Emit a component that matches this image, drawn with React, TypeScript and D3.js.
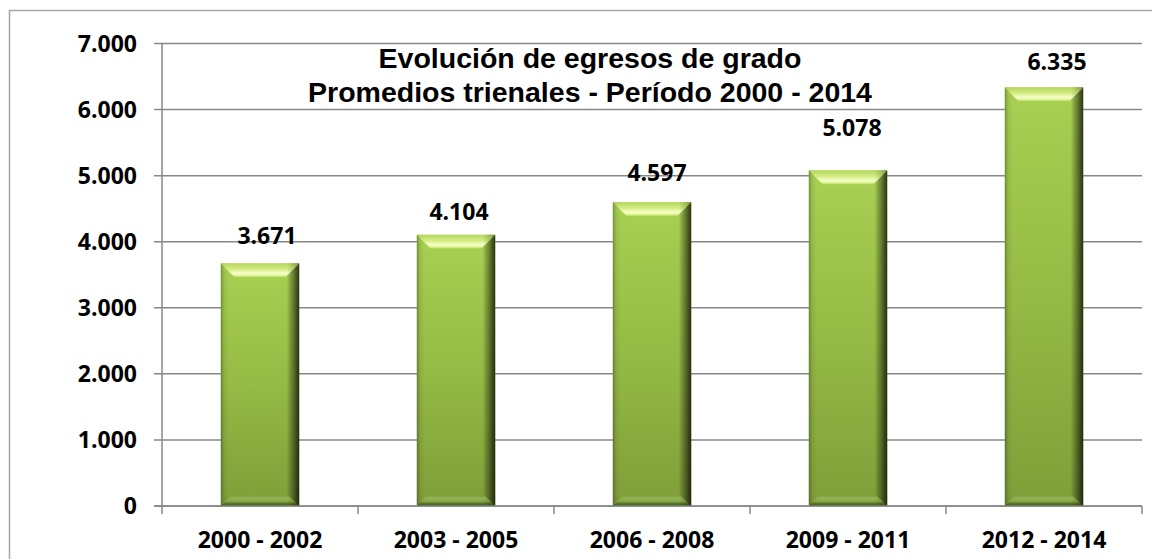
import React from 'react';
import * as d3 from 'd3';

const categories = ['2000 - 2002', '2003 - 2005', '2006 - 2008', '2009 - 2011', '2012 - 2014'];
const values = [3671, 4104, 4597, 5078, 6335];
const yTicks = [0, 1000, 2000, 3000, 4000, 5000, 6000, 7000];
const titleLines = ['Evolución de egresos de grado', 'Promedios trienales - Período 2000 - 2014'];
// manual nudges of the data labels (as placed in the original)
const labelNudgeX = [7, 3, 5, 4, 13];
const labelNudgeY = [19, 15, 21, 34, 17];

const W = 1152;
const H = 559;
const M = { left: 162, right: 1142, top: 43.5, bottom: 506 };

const locale = d3.formatLocale({ decimal: ',', thousands: '.', grouping: [3], currency: ['', ''] });
const fmt = locale.format(',d');

const LABEL_FONT = "'Open Sans', 'Noto Sans', sans-serif";
const TITLE_FONT = "'Liberation Sans', Arial, sans-serif";
const AXIS = '#878787';

export default function App() {
  const x = d3.scaleBand<string>().domain(categories).range([M.left, M.right]).paddingInner(0.6).paddingOuter(0.3);
  const y = d3.scaleLinear().domain([0, 7000]).range([M.bottom, M.top]);
  const step = x.step();
  const bw = x.bandwidth();
  const bevT = 14;
  const bevB = 11;

  return (
    <svg width={W} height={H} style={{ position: 'absolute', left: 0, top: 0, background: '#fff' }}>
      <defs>
        <linearGradient id="mainV" x1="0" y1="0" x2="0" y2="1">
          <stop offset="0" stopColor="#a8d052" />
          <stop offset="0.5" stopColor="#95ba45" />
          <stop offset="1" stopColor="#7f9e39" />
        </linearGradient>
        <linearGradient id="sideH" x1="0" y1="0" x2="1" y2="0">
          <stop offset="0" stopColor="#000" stopOpacity="0.22" />
          <stop offset="0.04" stopColor="#000" stopOpacity="0.05" />
          <stop offset="0.1" stopColor="#000" stopOpacity="0" />
          <stop offset="0.84" stopColor="#000" stopOpacity="0" />
          <stop offset="0.93" stopColor="#000" stopOpacity="0.3" />
          <stop offset="1" stopColor="#000" stopOpacity="0.62" />
        </linearGradient>
        <linearGradient id="topBev" x1="0" y1="0" x2="0" y2="1">
          <stop offset="0" stopColor="#b4d85c" />
          <stop offset="0.45" stopColor="#d8ee88" />
          <stop offset="0.7" stopColor="#f6ffc8" />
          <stop offset="0.85" stopColor="#e4f7a0" />
          <stop offset="1" stopColor="#aed456" />
        </linearGradient>
        <linearGradient id="botBev" x1="0" y1="0" x2="0" y2="1">
          <stop offset="0" stopColor="#7e9c3a" />
          <stop offset="0.3" stopColor="#93b352" />
          <stop offset="0.6" stopColor="#86a646" />
          <stop offset="0.75" stopColor="#5b7a2a" />
          <stop offset="1" stopColor="#3e5818" />
        </linearGradient>
      </defs>

      {/* chart area border */}
      <rect x={9.5} y={10.5} width={1160} height={570} fill="none" stroke="#a6a6a6" strokeWidth={1.5} />

      {/* gridlines and y ticks */}
      {yTicks.map((t) => (
        <g key={t}>
          <line x1={M.left - 8} x2={M.right} y1={y(t)} y2={y(t)} stroke={AXIS} strokeWidth={1.5} />
          <text
            x={137}
            y={y(t)}
            dy="0.36em"
            textAnchor="end"
            fontFamily={LABEL_FONT}
            fontWeight="bold"
            fontSize={23}
            fill="#000"
          >
            {fmt(t)}
          </text>
        </g>
      ))}

      {/* y axis line */}
      <line x1={M.left} x2={M.left} y1={M.top} y2={M.bottom + 8} stroke={AXIS} strokeWidth={1.5} />

      {/* category ticks */}
      {categories.map((c, i) => {
        const bx = M.left + step * (i + 1);
        return <line key={c} x1={bx} x2={bx} y1={M.bottom} y2={M.bottom + 8} stroke={AXIS} strokeWidth={1.5} />;
      })}

      {/* bars */}
      {values.map((v, i) => {
        const x0 = x(categories[i])!;
        const x1 = x0 + bw;
        const top = y(v);
        const bot = y(0);
        const h = bot - top;
        const topPts = `${x0},${top} ${x1},${top} ${x1 - bevT},${top + bevT} ${x0 + bevT},${top + bevT}`;
        const rightTopWedge = `${x1},${top} ${x1 - bevT},${top + bevT} ${x1},${top + bevT}`;
        const botPts = `${x0},${bot} ${x1},${bot} ${x1 - bevB},${bot - bevB} ${x0 + bevB},${bot - bevB}`;
        return (
          <g key={categories[i]}>
            <rect x={x0} y={top} width={bw} height={h} fill="url(#mainV)" />
            <rect x={x0} y={top} width={bw} height={h} fill="url(#sideH)" />
            <polygon points={topPts} fill="url(#topBev)" />
            <polygon points={rightTopWedge} fill="#000" fillOpacity={0.0} />
            <polygon points={botPts} fill="url(#botBev)" />
            <rect x={x0} y={top} width={bw} height={h} fill="url(#sideH)" opacity={0.5} />
          </g>
        );
      })}

      {/* x axis line */}
      <line x1={M.left - 8} x2={M.right} y1={M.bottom} y2={M.bottom} stroke={AXIS} strokeWidth={1.5} />

      {/* value labels */}
      {values.map((v, i) => (
        <text
          key={'l' + i}
          x={x(categories[i])! + bw / 2 + labelNudgeX[i]}
          y={y(v) - labelNudgeY[i]}
          textAnchor="middle"
          fontFamily={LABEL_FONT}
          fontWeight="bold"
          fontSize={23}
          fill="#000"
        >
          {fmt(v)}
        </text>
      ))}

      {/* category labels */}
      {categories.map((c) => (
        <text
          key={'c' + c}
          x={x(c)! + bw / 2}
          y={548}
          textAnchor="middle"
          fontFamily={LABEL_FONT}
          fontWeight="bold"
          fontSize={23}
          fill="#000"
        >
          {c}
        </text>
      ))}

      {/* title */}
      {titleLines.map((t, i) => (
        <text
          key={'t' + i}
          x={590}
          y={68 + i * 34}
          textAnchor="middle"
          fontFamily={TITLE_FONT}
          fontWeight="bold"
          fontSize={28.5}
          fill="#000"
        >
          {t}
        </text>
      ))}
    </svg>
  );
}
